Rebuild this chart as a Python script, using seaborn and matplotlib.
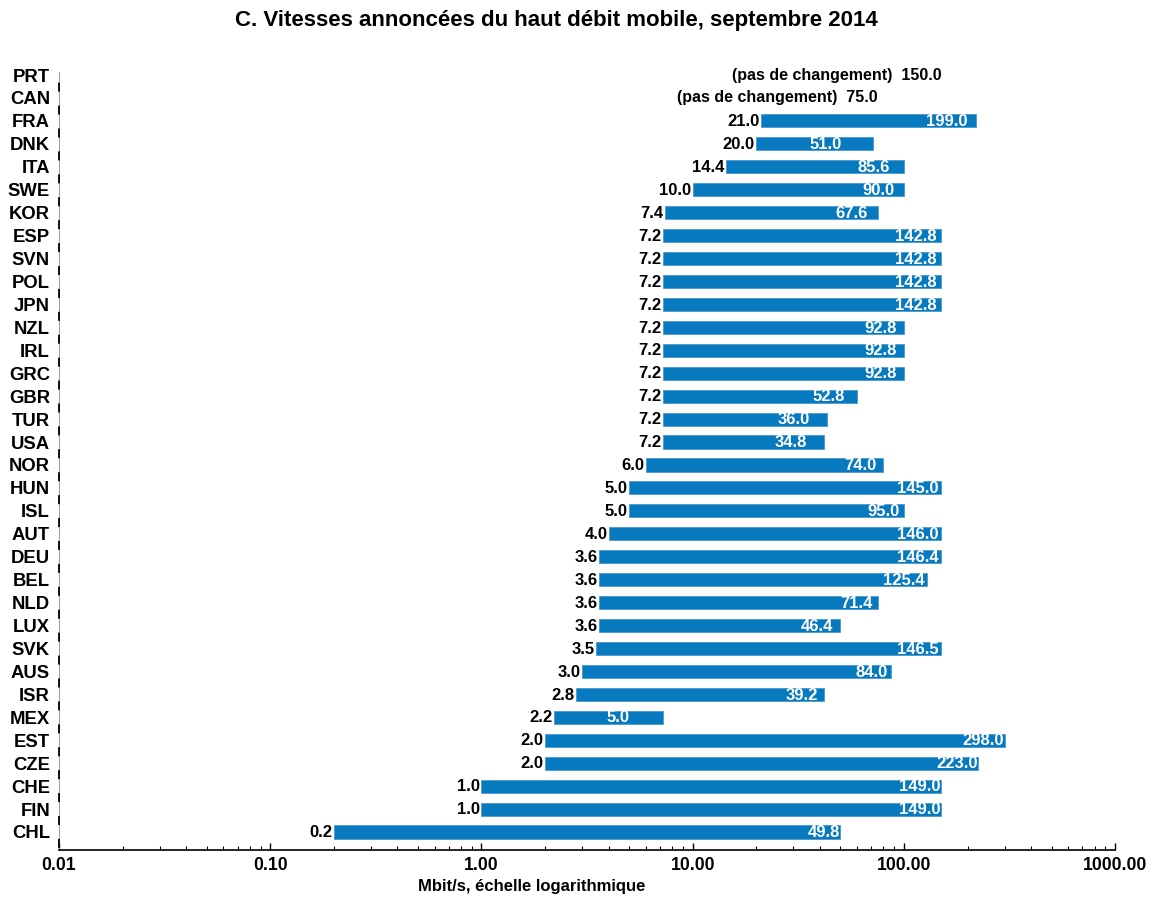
import numpy as np
import pandas as pd
import matplotlib
matplotlib.use("Agg")
import matplotlib.pyplot as plt
import seaborn as sns

countries = ["PRT", "CAN", "FRA", "DNK", "ITA", "SWE", "KOR", "ESP", "SVN", "POL",
             "JPN", "NZL", "IRL", "GRC", "GBR", "TUR", "USA", "NOR", "HUN", "ISL",
             "AUT", "DEU", "BEL", "NLD", "LUX", "SVK", "AUS", "ISR", "MEX", "EST",
             "CZE", "CHE", "FIN", "CHL"]
low_speed = [150.0, 75.0, 21.0, 20.0, 14.4, 10.0, 7.4, 7.2, 7.2, 7.2,
             7.2, 7.2, 7.2, 7.2, 7.2, 7.2, 7.2, 6.0, 5.0, 5.0,
             4.0, 3.6, 3.6, 3.6, 3.6, 3.5, 3.0, 2.8, 2.2, 2.0,
             2.0, 1.0, 1.0, 0.2]
increase = [0.0, 0.0, 199.0, 51.0, 85.6, 90.0, 67.6, 142.8, 142.8, 142.8,
            142.8, 92.8, 92.8, 92.8, 52.8, 36.0, 34.8, 74.0, 145.0, 95.0,
            146.0, 146.4, 125.4, 71.4, 46.4, 146.5, 84.0, 39.2, 5.0, 298.0,
            223.0, 149.0, 149.0, 49.8]
x_ticks = [0.01, 0.1, 1, 10, 100, 1000]
x_tick_labels = ["0.01", "0.10", "1.00", "10.00", "100.00", "1000.00"]
no_change_text = "(pas de changement)"

sns.set_theme(style="white")
plt.rcParams["font.family"] = ["Liberation Sans", "DejaVu Sans"]
plt.rcParams["font.weight"] = "bold"
plt.rcParams["text.color"] = "black"
plt.rcParams["xtick.color"] = "black"
plt.rcParams["ytick.color"] = "black"
plt.rcParams["lines.scale_dashes"] = False

df = pd.DataFrame({"pays": countries, "bas": low_speed, "hausse": increase})
df["haut"] = df["bas"] + df["hausse"]

fig = plt.figure(figsize=(11.58, 8.97), dpi=100)
ax = fig.add_axes([0.051, 0.0524, 0.912, 0.8673])

sns.barplot(data=df, y="pays", x="haut", orient="h", color="#0779BF",
            saturation=1, width=0.57, ax=ax, edgecolor="#4A9AD0", linewidth=0.6)
ax.set_xscale("log")

# each bar runs from the low speed to low + increase
for patch, lo, hi, inc in zip(ax.patches, df["bas"], df["haut"], df["hausse"]):
    patch.set_x(lo)
    patch.set_width(hi - lo)
    if inc == 0:
        patch.set_visible(False)

for i, row in df.iterrows():
    if row["hausse"] == 0:
        ax.text(row["bas"], i, f"{no_change_text}  {row['bas']:.1f}", ha="right",
                va="center", fontsize=11.5, fontweight="bold", color="black")
    else:
        ax.text(row["bas"] * 0.985, i + 0.03, f"{row['bas']:.1f}", ha="right", va="center",
                fontsize=12, fontweight="bold", color="black")
        ax.text(row["hausse"], i + 0.03, f"{row['hausse']:.1f}", ha="right", va="center",
                fontsize=12, fontweight="bold", color="white")

ax.set_xlim(0.01, 1000)
ax.set_ylim(len(countries) - 0.215, -0.13)
ax.set_xticks(x_ticks)
ax.set_xticklabels(x_tick_labels, fontsize=12.7, fontweight="bold")
ax.xaxis.set_minor_locator(matplotlib.ticker.LogLocator(base=10, subs=np.arange(2, 10)))
ax.xaxis.set_minor_formatter(matplotlib.ticker.NullFormatter())
ax.tick_params(axis="x", which="major", direction="in", length=5, width=1, color="black", pad=5, bottom=True)
ax.tick_params(axis="x", which="minor", direction="in", length=3, width=0.8, color="black", bottom=True)
ax.tick_params(axis="y", length=0, pad=6.5, labelsize=13.3)
for lab in ax.get_yticklabels():
    lab.set_fontweight("bold")

ax.set_ylabel("")
ax.set_xlabel("")
for side in ["top", "right"]:
    ax.spines[side].set_visible(False)
ax.spines["bottom"].set_color("black")
ax.spines["bottom"].set_linewidth(1.2)
ax.spines["left"].set_color("#9a9a9a")
ax.spines["left"].set_linewidth(0.7)
# dark dashes on the y axis, one at each boundary between countries
ax.axvline(0.01, color="black", linewidth=1.3, linestyle=(15.0, (6.5, 10.0)), clip_on=False, zorder=5)
ax.grid(False)

fig.text(0.459, 0.012, "Mbit/s, échelle logarithmique", ha="center", va="center",
         fontsize=12, fontweight="bold")
fig.text(0.4806, 0.977, "C. Vitesses annoncées du haut débit mobile, septembre 2014",
         ha="center", va="center", fontsize=16, fontweight="bold")

fig.savefig("out.png", dpi=100)
